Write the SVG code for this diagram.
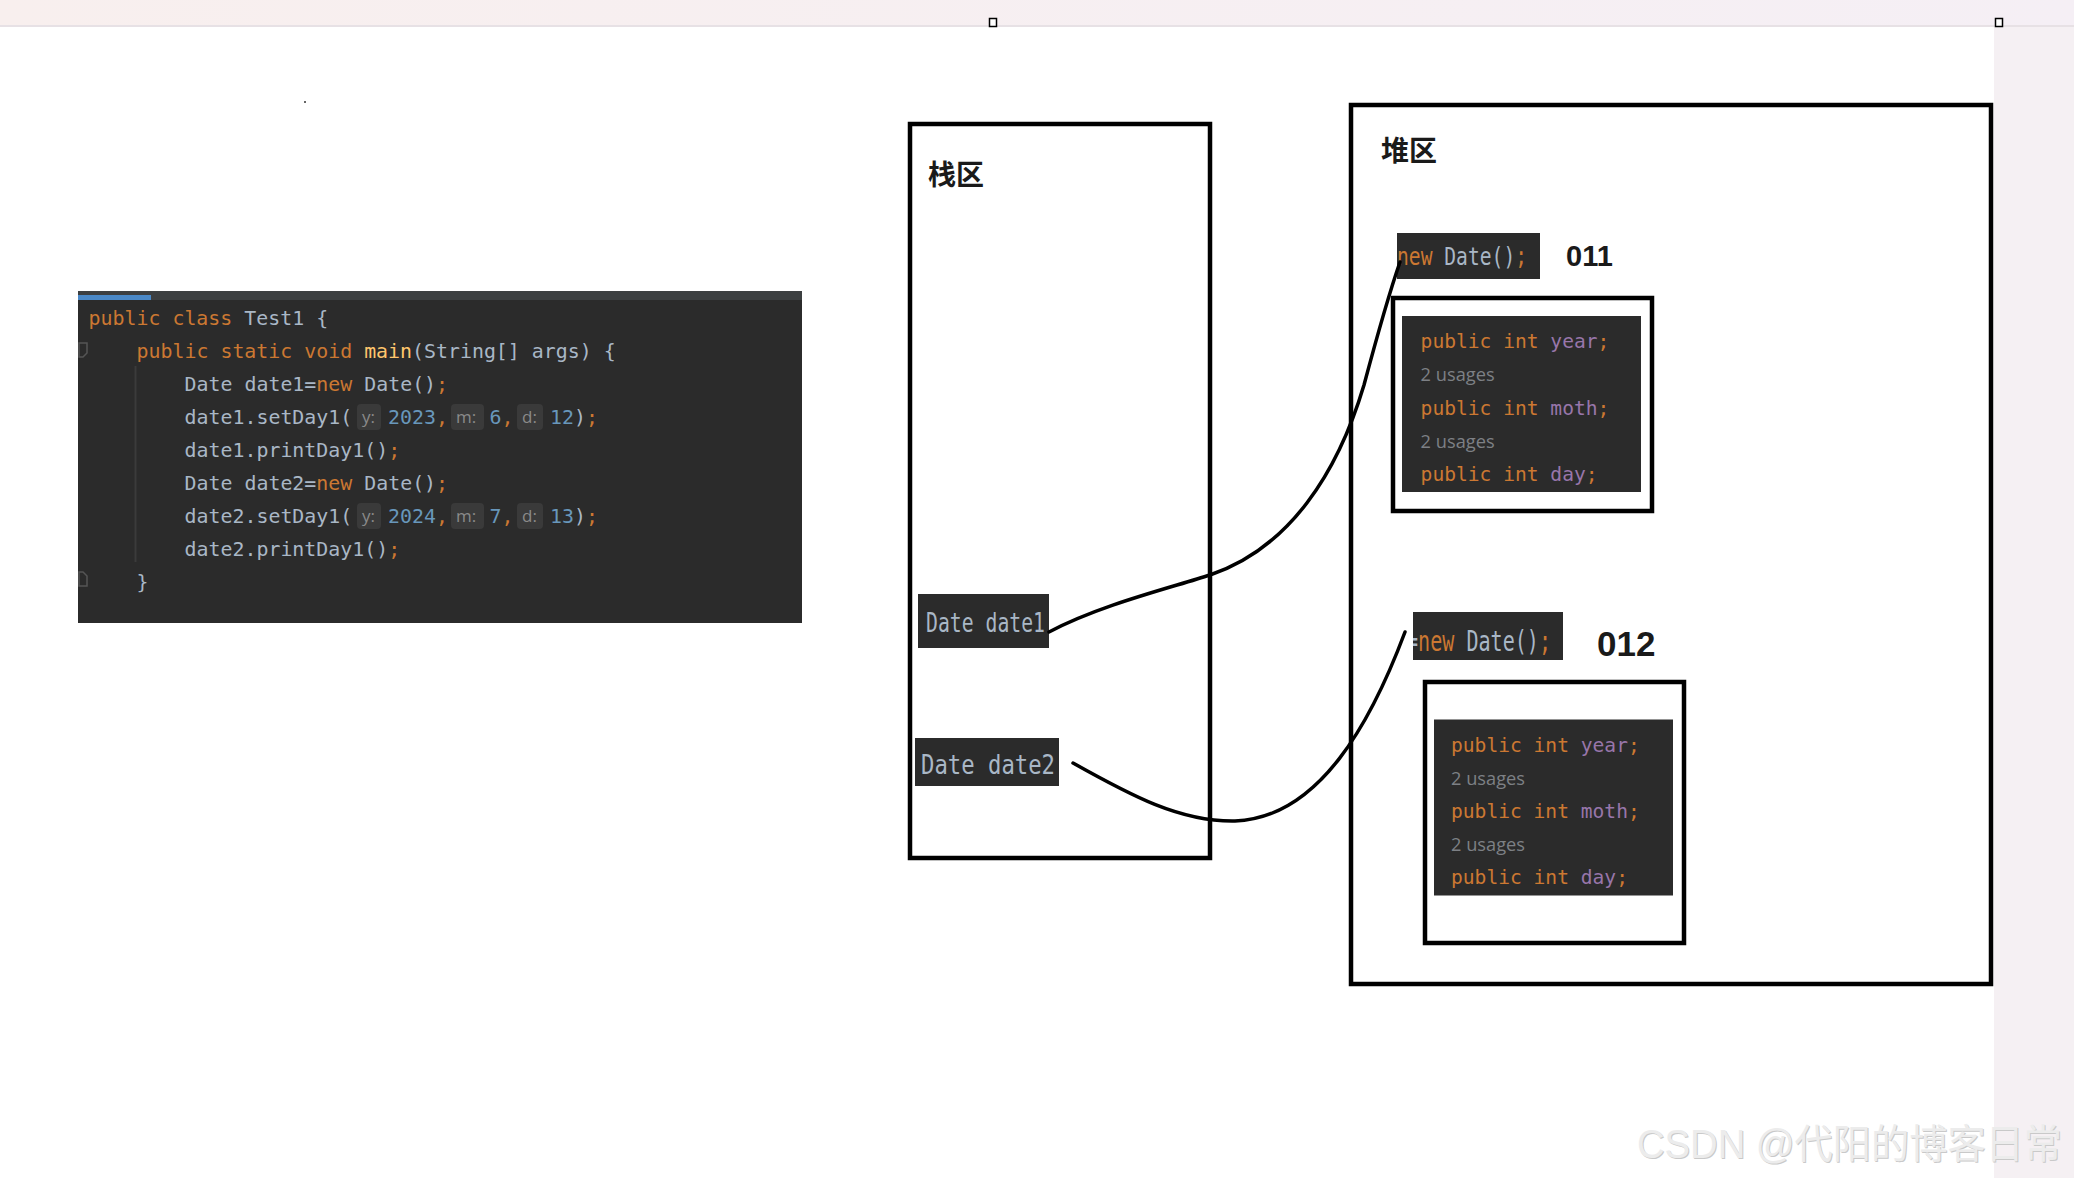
<svg xmlns="http://www.w3.org/2000/svg" width="2074" height="1178" viewBox="0 0 2074 1178">
<defs>
<linearGradient id="topbar" x1="0" y1="0" x2="1" y2="0">
<stop offset="0" stop-color="#f8efee"/>
<stop offset="1" stop-color="#f5eff5"/>
</linearGradient>
<clipPath id="clipNew2"><rect x="1413" y="612" width="150" height="48"/></clipPath>
</defs>
<style>
.mono{font-family:"DejaVu Sans Mono","Liberation Mono",monospace;}
.code{font-size:19.9px;}
.kw{fill:#cc7832;}
.id{fill:#a9b7c6;}
.num{fill:#6897bb;}
.fn{fill:#ffc66d;}
.fld{fill:#9876aa;}
.hintbox{fill:#3a3a3a;}
.hint{font-family:"Open Sans","Liberation Sans",sans-serif;font-size:17px;fill:#8a8a8a;}
.usage{font-family:"Open Sans","Liberation Sans",sans-serif;font-size:18px;fill:#7d8085;}
.panel{fill:#2b2b2b;}
.frame{fill:none;stroke:#000;stroke-width:4.5;}
.title{font-family:"Noto Sans CJK SC","Noto Sans",sans-serif;font-weight:bold;font-size:28px;fill:#1a1a1a;}
.addr{font-family:"Liberation Sans","Noto Sans",sans-serif;font-weight:bold;fill:#1a1a1a;}
.conn{fill:none;stroke:#000;stroke-width:3.5;stroke-linecap:round;}
</style>

<!-- page chrome -->
<rect x="0" y="0" width="2074" height="1178" fill="#ffffff"/>
<rect x="0" y="0" width="2074" height="26" fill="url(#topbar)"/>
<rect x="0" y="25" width="2074" height="2" fill="#e7e1e5"/>
<rect x="1994" y="27" width="80" height="1151" fill="#f5f0f3"/>
<rect x="989.5" y="18.5" width="7" height="8" fill="#fff" stroke="#000" stroke-width="1.5"/>
<rect x="1995.5" y="18.5" width="7" height="8" fill="#fff" stroke="#000" stroke-width="1.5"/>
<rect x="304" y="101" width="2" height="2" fill="#666"/>

<!-- code editor snippet -->
<g id="code">
<rect x="78" y="291" width="724" height="332" fill="#2b2b2b"/>
<rect x="78" y="291" width="724" height="9" fill="#3c3f41"/>
<rect x="78" y="295" width="73" height="5" fill="#4a88c7"/>
<line x1="135.5" y1="366" x2="135.5" y2="562" stroke="#3b3b3b" stroke-width="2"/>
<path d="M79,343 h8 v10 l-4,4 h-4 z" fill="none" stroke="#555" stroke-width="1.5"/>
<path d="M79,586 h8 v-10 l-4,-4 h-4 z" fill="none" stroke="#555" stroke-width="1.5"/>
<g class="mono code">
<text x="88.6" y="324.5" xml:space="preserve"><tspan class="kw">public class </tspan><tspan class="id">Test1 {</tspan></text>
<text x="136.6" y="357.5" xml:space="preserve"><tspan class="kw">public static void </tspan><tspan class="fn">main</tspan><tspan class="id">(String[] args) {</tspan></text>
<text x="184.6" y="390.6" xml:space="preserve"><tspan class="id">Date date1=</tspan><tspan class="kw">new</tspan><tspan class="id"> Date()</tspan><tspan class="kw">;</tspan></text>
<text x="184.6" y="423.7" class="id">date1.setDay1(</text>
<text x="184.6" y="456.7" xml:space="preserve"><tspan class="id">date1.printDay1()</tspan><tspan class="kw">;</tspan></text>
<text x="184.6" y="489.8" xml:space="preserve"><tspan class="id">Date date2=</tspan><tspan class="kw">new</tspan><tspan class="id"> Date()</tspan><tspan class="kw">;</tspan></text>
<text x="184.6" y="522.8" class="id">date2.setDay1(</text>
<text x="184.6" y="555.9" xml:space="preserve"><tspan class="id">date2.printDay1()</tspan><tspan class="kw">;</tspan></text>
<text x="136.6" y="589" class="id">}</text>
</g>
<!-- hints line 4 -->
<rect class="hintbox" x="357" y="404" width="24" height="26" rx="4"/>
<text class="hint" x="362" y="423">y:</text>
<text class="mono code" x="388" y="423.7"><tspan class="num">2023</tspan><tspan class="kw">,</tspan></text>
<rect class="hintbox" x="451" y="404" width="33" height="26" rx="4"/>
<text class="hint" x="456" y="423">m:</text>
<text class="mono code" x="489.5" y="423.7"><tspan class="num">6</tspan><tspan class="kw">,</tspan></text>
<rect class="hintbox" x="517" y="404" width="26" height="26" rx="4"/>
<text class="hint" x="522" y="423">d:</text>
<text class="mono code" x="550" y="423.7"><tspan class="num">12</tspan><tspan class="id">)</tspan><tspan class="kw">;</tspan></text>
<!-- hints line 7 -->
<rect class="hintbox" x="357" y="503" width="24" height="26" rx="4"/>
<text class="hint" x="362" y="522">y:</text>
<text class="mono code" x="388" y="522.8"><tspan class="num">2024</tspan><tspan class="kw">,</tspan></text>
<rect class="hintbox" x="451" y="503" width="33" height="26" rx="4"/>
<text class="hint" x="456" y="522">m:</text>
<text class="mono code" x="489.5" y="522.8"><tspan class="num">7</tspan><tspan class="kw">,</tspan></text>
<rect class="hintbox" x="517" y="503" width="26" height="26" rx="4"/>
<text class="hint" x="522" y="522">d:</text>
<text class="mono code" x="550" y="522.8"><tspan class="num">13</tspan><tspan class="id">)</tspan><tspan class="kw">;</tspan></text>
</g>

<!-- stack area -->
<g id="stack">
<rect class="frame" x="910" y="124" width="300" height="734"/>
<text class="title" x="928" y="185">栈区</text>
</g>
<g id="date1">
<rect class="panel" x="918" y="594" width="131" height="54"/>
<text class="mono id" x="926" y="632" font-size="27" textLength="119" lengthAdjust="spacingAndGlyphs">Date date1</text>
</g>
<g id="date2">
<rect class="panel" x="915" y="738" width="144" height="48"/>
<text class="mono id" x="921" y="774" font-size="26" textLength="134" lengthAdjust="spacingAndGlyphs">Date date2</text>
</g>

<!-- heap area -->
<g id="heap">
<rect class="frame" x="1351" y="105" width="640" height="879"/>
<text class="title" x="1381" y="161">堆区</text>
</g>

<g id="obj1">
<rect class="panel" x="1397" y="233" width="143" height="46"/>
<g class="mono" font-size="24">
<text class="kw" x="1397" y="265" textLength="35.5" lengthAdjust="spacingAndGlyphs">new</text>
<text class="id" x="1444.3" y="265" textLength="70.9" lengthAdjust="spacingAndGlyphs">Date()</text>
<text class="kw" x="1515.2" y="265" textLength="11.8" lengthAdjust="spacingAndGlyphs">;</text>
</g>
<text class="addr" x="1566" y="266" font-size="29">011</text>
<rect class="frame" x="1393" y="298" width="259" height="213"/>
<rect class="panel" x="1402" y="316" width="239" height="176"/>
<g class="mono" font-size="19.6">
<text x="1420.6" y="348" xml:space="preserve"><tspan class="kw">public int </tspan><tspan class="fld">year</tspan><tspan class="kw">;</tspan></text>
<text x="1420.6" y="414.5" xml:space="preserve"><tspan class="kw">public int </tspan><tspan class="fld">moth</tspan><tspan class="kw">;</tspan></text>
<text x="1420.6" y="480.5" xml:space="preserve"><tspan class="kw">public int </tspan><tspan class="fld">day</tspan><tspan class="kw">;</tspan></text>
</g>
<text class="usage" x="1420.6" y="381" textLength="74" lengthAdjust="spacingAndGlyphs">2 usages</text>
<text class="usage" x="1420.6" y="447.5" textLength="74" lengthAdjust="spacingAndGlyphs">2 usages</text>
</g>

<g id="obj2">
<rect class="panel" x="1413" y="612" width="150" height="48"/>
<g class="mono" font-size="28">
<text class="id" x="1406" y="651" textLength="12.1" lengthAdjust="spacingAndGlyphs" clip-path="url(#clipNew2)">=</text>
<text class="kw" x="1418.1" y="651" textLength="36.2" lengthAdjust="spacingAndGlyphs">new</text>
<text class="id" x="1466.4" y="651" textLength="72.5" lengthAdjust="spacingAndGlyphs">Date()</text>
<text class="kw" x="1538.9" y="651" textLength="12.1" lengthAdjust="spacingAndGlyphs">;</text>
</g>
<text class="addr" x="1597" y="656" font-size="35">012</text>
<rect class="frame" x="1425" y="682" width="259" height="261"/>
<rect class="panel" x="1434" y="719.5" width="239" height="176"/>
<g class="mono" font-size="19.6">
<text x="1451" y="751.7" xml:space="preserve"><tspan class="kw">public int </tspan><tspan class="fld">year</tspan><tspan class="kw">;</tspan></text>
<text x="1451" y="817.8" xml:space="preserve"><tspan class="kw">public int </tspan><tspan class="fld">moth</tspan><tspan class="kw">;</tspan></text>
<text x="1451" y="884" xml:space="preserve"><tspan class="kw">public int </tspan><tspan class="fld">day</tspan><tspan class="kw">;</tspan></text>
</g>
<text class="usage" x="1451" y="784.8" textLength="74" lengthAdjust="spacingAndGlyphs">2 usages</text>
<text class="usage" x="1451" y="850.9" textLength="74" lengthAdjust="spacingAndGlyphs">2 usages</text>
</g>

<!-- connectors -->
<g id="connectors">
<path class="conn" d="M1049,632 C1100,605 1170,588 1210,575 C1290,548 1338,472 1364,385 C1380,325 1392,285 1400,262"/>
<path class="conn" d="M1073,763 C1130,795 1180,822 1235,821 C1320,818 1372,720 1405,632"/>
</g>

<!-- watermark -->
<text x="1637" y="1158" font-family="Liberation Sans,Noto Sans CJK SC,sans-serif" font-size="40" fill="#c9c9c9" textLength="425" lengthAdjust="spacingAndGlyphs" transform="translate(1,1)">CSDN @代阳的博客日常</text>
<text x="1637" y="1158" font-family="Liberation Sans,Noto Sans CJK SC,sans-serif" font-size="40" fill="#ececec" textLength="425" lengthAdjust="spacingAndGlyphs">CSDN @代阳的博客日常</text>
</svg>
